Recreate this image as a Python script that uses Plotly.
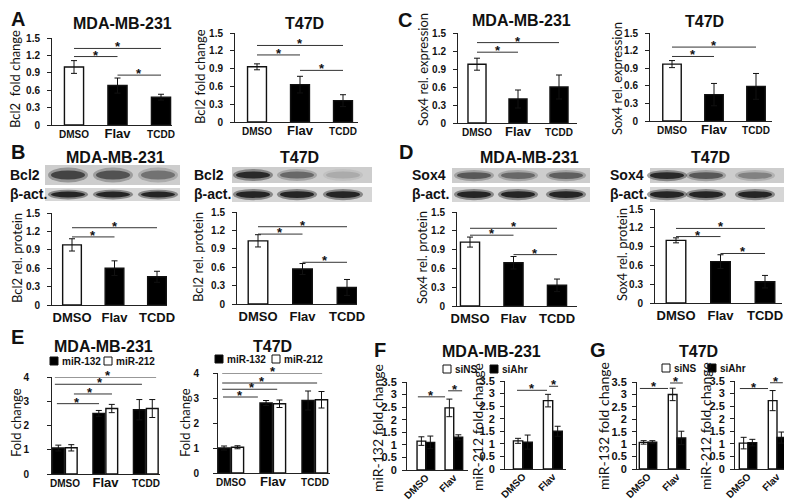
import plotly.graph_objects as go

# The page body keeps an 8px default margin, so the figure is drawn 8px in
# from the window edge; layout positions below are given in window pixels.
WIN_W, WIN_H = 792, 500
OFF = 8
W, H = WIN_W - OFF, WIN_H - OFF
FONT = "Liberation Sans"
TFONT = "Lato"

# ---------------- data ----------------
cats3 = ["DMSO", "Flav", "TCDD"]
cats2 = ["DMSO", "Flav"]
cats3_small = ["DMSO", "<span style='font-size:13px'>Flav</span>", "TCDD"]

yt15 = [0, 0.3, 0.6, 0.9, 1.2, 1.5]
yt15_txt = ["0", "0.3", "0.6", "0.9", "1.2", "1.5"]
yt4 = [0, 1, 2, 3, 4]
yt4_txt = ["0", "1", "2", "3", "4"]
yt35 = [0, 0.5, 1, 1.5, 2, 2.5, 3, 3.5]
yt35_txt = ["0", "0.5", "1", "1.5", "2", "2.5", "3", "3.5"]

# A: Bcl2 fold change (mRNA)
a_mda_val = [1.0, 0.68, 0.48]
a_mda_err = [0.11, 0.13, 0.05]
a_t47d_val = [0.93, 0.63, 0.36]
a_t47d_err = [0.05, 0.14, 0.10]
# B: Bcl2 rel. protein
b_mda_val = [0.98, 0.60, 0.46]
b_mda_err = [0.10, 0.12, 0.09]
b_t47d_val = [1.03, 0.57, 0.27]
b_t47d_err = [0.10, 0.09, 0.13]
# C: Sox4 rel. expression
c_mda_val = [0.98, 0.40, 0.60]
c_mda_err = [0.10, 0.15, 0.20]
c_t47d_val = [0.97, 0.45, 0.59]
c_t47d_err = [0.06, 0.19, 0.22]
# D: Sox4 rel. protein
d_mda_val = [1.02, 0.69, 0.33]
d_mda_err = [0.08, 0.10, 0.10]
d_t47d_val = [1.00, 0.66, 0.34]
d_t47d_err = [0.04, 0.11, 0.10]
# E: miR-132 / miR-212 fold change
e_mda_132 = [1.07, 2.50, 2.65]
e_mda_132_err = [0.12, 0.12, 0.42]
e_mda_212 = [1.08, 2.70, 2.70]
e_mda_212_err = [0.13, 0.17, 0.37]
e_t47d_132 = [1.00, 2.80, 2.90]
e_t47d_132_err = [0.08, 0.10, 0.38]
e_t47d_212 = [1.03, 2.77, 2.93]
e_t47d_212_err = [0.06, 0.15, 0.33]
# F: MDA-MB-231 siNS / siAhr
f_132_siNS = [1.15, 2.47]
f_132_siNS_err = [0.17, 0.35]
f_132_siAhr = [1.10, 1.30]
f_132_siAhr_err = [0.25, 0.10]
f_212_siNS = [1.12, 2.72]
f_212_siNS_err = [0.10, 0.25]
f_212_siAhr = [1.07, 1.50]
f_212_siAhr_err = [0.28, 0.20]
# G: T47D siNS / siAhr
g_132_siNS = [1.07, 3.00]
g_132_siNS_err = [0.07, 0.25]
g_132_siAhr = [1.08, 1.25]
g_132_siAhr_err = [0.06, 0.27]
g_212_siNS = [1.03, 2.72]
g_212_siNS_err = [0.23, 0.40]
g_212_siAhr = [1.05, 1.25]
g_212_siAhr_err = [0.13, 0.22]

# significance brackets: (from, to, height[, star position])
a_mda_sig = [(0, 2, 1.32), (0, 1, 1.18), (1, 2, 0.86)]
a_t47d_sig = [(0, 2, 1.29), (0, 1, 1.13), (1, 2, 0.87)]
b_mda_sig = [(0, 2, 1.26), (0, 1, 1.11)]
b_t47d_sig = [(0, 2, 1.26), (0, 1, 1.14), (1, 2, 0.68)]
c_mda_sig = [(0, 2, 1.34), (0, 1, 1.18)]
c_t47d_sig = [(0, 2, 1.26), (0, 1, 1.10)]
d_mda_sig = [(0, 2, 1.24), (0, 1, 1.13), (1, 2, 0.82)]
d_t47d_sig = [(0, 2, 1.19), (0, 1, 1.06), (1, 2, 0.79)]
e_mda_sig = [(-0.25, 2.25, 4.0, 1.06), (-0.25, 1.9, 3.7, 0.86), (0.22, 1.16, 3.3, 0.62),
             (-0.2, 0.84, 2.9, 0.3)]
e_t47d_sig = [(-0.21, 2.17, 4.0, 1.0), (-0.21, 2.05, 3.6, 0.74), (-0.21, 1.1, 3.35, 0.5),
              (-0.19, 0.64, 3.04, 0.21)]
f_132_sig = [(-0.29, 0.68, 2.91), (0.79, 1.29, 3.15)]
f_212_sig = [(-0.2, 0.8, 3.13), (0.87, 1.17, 3.29)]
g_132_sig = [(-0.28, 0.69, 3.24), (0.76, 1.2, 3.46)]
g_212_sig = [(-0.28, 0.69, 3.2), (0.76, 1.2, 3.43)]

# ---------------- helpers ----------------
fig = go.Figure()
layout = {}
shapes = []
annots = []
count = [0]


def px(x):
    return (x - OFF) / W


def py(y):
    return 1 - (y - OFF) / H


def make_axes(left, right, c0, c_last, n_last, y0, ytop, ymax, ytv, ytt, xtt,
              xsize, standoff=5, ysize=10, tickangle=0, xstandoff=0):
    count[0] += 1
    i = count[0]
    s = (c_last - c0) / n_last
    k = "" if i == 1 else str(i)
    layout["xaxis" + k] = dict(
        domain=[px(left), px(right)], range=[(left - c0) / s, (right - c0) / s],
        anchor="y" + k, tickvals=list(range(len(xtt))), ticktext=xtt,
        showline=True, linecolor="#222", linewidth=1, ticks="", showgrid=False,
        zeroline=False, tickangle=tickangle, automargin=False, ticklabelstandoff=xstandoff,
        tickfont=dict(family=FONT, size=xsize, color="#111", weight="bold"))
    layout["yaxis" + k] = dict(
        domain=[py(y0), py(ytop)], range=[0, ymax], anchor="x" + k,
        tickvals=ytv, ticktext=ytt, showline=True, linecolor="#222", linewidth=1,
        ticks="outside", ticklen=4, tickcolor="#222", showgrid=False, zeroline=False,
        ticklabelstandoff=standoff, automargin=False,
        tickfont=dict(family=FONT, size=ysize, color="#111", weight="bold"))
    return "x" + k, "y" + k


def bars(xa, ya, vals, errs, colors, width, offset=None):
    fig.add_trace(go.Bar(
        x=list(range(len(vals))), y=vals, xaxis=xa, yaxis=ya, width=width, offset=offset,
        marker=dict(color=colors, line=dict(color="#111", width=1.4)),
        error_y=dict(type="data", array=errs, color="#111", thickness=1, width=3),
        showlegend=False, hoverinfo="skip"))


def brackets(xa, ya, sig):
    for item in sig:
        x0, x1, y = item[0], item[1], item[2]
        sx = item[3] if len(item) > 3 else (x0 + x1) / 2
        shapes.append(dict(type="line", xref=xa, yref=ya, x0=x0, x1=x1, y0=y, y1=y,
                           line=dict(color="#333", width=1)))
        annots.append(dict(xref=xa, yref=ya, x=sx, y=y, text="*",
                           showarrow=False, yanchor="bottom", yshift=-8,
                           font=dict(family=FONT, size=13, color="#111", weight="bold")))


def text(x, y, s, size, bold=True, family=FONT, angle=0, xanchor="center"):
    annots.append(dict(xref="paper", yref="paper", x=px(x), y=py(y), text=s,
                       showarrow=False, textangle=angle, xanchor=xanchor, yanchor="middle",
                       font=dict(family=family, size=size, color="#111",
                                 weight="bold" if bold else "normal")))


def blot_row(x0, x1, y0, y1, lanes, intens, half=20, bg="#cdcdcd"):
    shapes.append(dict(type="rect", xref="paper", yref="paper", x0=px(x0), x1=px(x1),
                       y0=py(y1), y1=py(y0), fillcolor=bg, line=dict(width=0)))
    ym = (y0 + y1) / 2
    hh = (y1 - y0) / 2
    for c, a in zip(lanes, intens):
        shapes.append(dict(type="circle", xref="paper", yref="paper",
                           x0=px(c - half), x1=px(c + half),
                           y0=py(ym + hh * 0.75), y1=py(ym - hh * 0.75),
                           fillcolor=f"rgba(40,40,40,{0.45 * a:.2f})", line=dict(width=0)))
        shapes.append(dict(type="circle", xref="paper", yref="paper",
                           x0=px(c - half * 0.85), x1=px(c + half * 0.85),
                           y0=py(ym + hh * 0.45), y1=py(ym - hh * 0.45),
                           fillcolor=f"rgba(20,20,20,{0.85 * a:.2f})", line=dict(width=0)))


def legend_item(x, y, fill, label):
    shapes.append(dict(type="rect", xref="paper", yref="paper", x0=px(x), x1=px(x + 8),
                       y0=py(y + 4), y1=py(y - 4), fillcolor=fill,
                       line=dict(color="#111", width=1)))
    text(x + 10, y, label, 10, xanchor="left")


W3 = 0.44
WHITE_BLACK3 = ["white", "black", "black"]

# ---------------- panel A ----------------
xa, ya = make_axes(52, 172, 74, 161, 2, 125, 38, 1.5, yt15, yt15_txt, cats3_small, 10)
bars(xa, ya, a_mda_val, a_mda_err, WHITE_BLACK3, W3)
brackets(xa, ya, a_mda_sig)
xa, ya = make_axes(235, 358, 257, 343, 2, 122, 33, 1.5, yt15, yt15_txt, cats3_small, 10)
bars(xa, ya, a_t47d_val, a_t47d_err, WHITE_BLACK3, W3)
brackets(xa, ya, a_t47d_sig)
text(18, 19, "A", 20)
text(122, 23, "MDA-MB-231", 16)
text(304, 23, "T47D", 16)
text(15, 79, "Bcl2  fold change", 13, bold=False, family=TFONT, angle=-90)
text(200, 77, "Bcl2 fold change", 13, bold=False, family=TFONT, angle=-90)

# ---------------- panel C ----------------
xa, ya = make_axes(458, 577, 477, 559, 2, 123, 33, 1.5, yt15, yt15_txt, cats3_small, 10)
bars(xa, ya, c_mda_val, c_mda_err, WHITE_BLACK3, W3)
brackets(xa, ya, c_mda_sig)
xa, ya = make_axes(650, 772, 672, 756, 2, 121, 33, 1.5, yt15, yt15_txt, cats3_small, 10)
bars(xa, ya, c_t47d_val, c_t47d_err, WHITE_BLACK3, W3)
brackets(xa, ya, c_t47d_sig)
text(405, 20, "C", 20)
text(521, 21, "MDA-MB-231", 16)
text(704, 22, "T47D", 16)
text(423, 70, "Sox4 rel. expression", 13, bold=False, family=TFONT, angle=-90)
text(617, 79, "Sox4 rel. expression", 13, bold=False, family=TFONT, angle=-90)

# ---------------- panel B ----------------
text(18, 152, "B", 20)
text(116, 157, "MDA-MB-231", 16)
text(299, 157, "T47D", 16)
blot_row(45, 180, 165, 185, [68, 113, 158], [0.75, 0.65, 0.45])
blot_row(45, 180, 188, 201, [68, 113, 158], [1, 1, 1], bg="#d6d6d6")
text(8, 175, "Bcl2", 14, xanchor="left")
text(8, 194, "β-act.", 14, xanchor="left")
blot_row(232, 372, 167, 183, [253, 297, 343], [0.95, 0.5, 0.15])
blot_row(232, 372, 187, 202, [253, 297, 343], [1, 1, 1], bg="#d6d6d6")
text(192, 175, "Bcl2", 14, xanchor="left")
text(192, 194, "β-act.", 14, xanchor="left")
xa, ya = make_axes(52, 167, 72, 157, 2, 305, 213, 1.5, yt15, yt15_txt, cats3, 13)
bars(xa, ya, b_mda_val, b_mda_err, WHITE_BLACK3, W3)
brackets(xa, ya, b_mda_sig)
xa, ya = make_axes(237, 357, 258, 347, 2, 304, 212, 1.5, yt15, yt15_txt, cats3, 13)
bars(xa, ya, b_t47d_val, b_t47d_err, WHITE_BLACK3, W3)
brackets(xa, ya, b_t47d_sig)
text(17, 258, "Bcl2 rel. protein", 13, bold=False, family=TFONT, angle=-90)
text(198, 257, "Bcl2 rel. protein", 13, bold=False, family=TFONT, angle=-90)

# ---------------- panel D ----------------
text(406, 152, "D", 20)
text(529, 157, "MDA-MB-231", 16)
text(710, 157, "T47D", 16)
blot_row(452, 590, 168, 183, [474, 518, 566], [0.6, 0.5, 0.55])
blot_row(452, 590, 187, 202, [474, 518, 566], [1, 1, 1], bg="#d6d6d6")
text(410, 175, "Sox4", 14, xanchor="left")
text(410, 194, "β-act.", 14, xanchor="left")
blot_row(650, 790, 168, 183, [667, 706, 755], [0.95, 0.6, 0.35])
blot_row(650, 790, 187, 202, [667, 706, 755], [1, 1, 1], bg="#d6d6d6")
text(608, 175, "Sox4", 14, xanchor="left")
text(608, 194, "β-act.", 14, xanchor="left")
xa, ya = make_axes(457, 577, 470, 557, 2, 306, 212, 1.5, yt15, yt15_txt, cats3, 13)
bars(xa, ya, d_mda_val, d_mda_err, WHITE_BLACK3, W3)
brackets(xa, ya, d_mda_sig)
xa, ya = make_axes(655, 782, 676, 765, 2, 303, 209, 1.5, yt15, yt15_txt, cats3, 13)
bars(xa, ya, d_t47d_val, d_t47d_err, WHITE_BLACK3, W3)
brackets(xa, ya, d_t47d_sig)
text(422, 257, "Sox4 rel. protein", 13, bold=False, family=TFONT, angle=-90)
text(622, 255, "Sox4 rel. protein", 13, bold=False, family=TFONT, angle=-90)

# ---------------- panel E ----------------
text(17, 337, "E", 20)
text(103, 346, "MDA-MB-231", 16)
text(272, 346, "T47D", 16)
legend_item(50, 361, "black", "miR-132")
legend_item(104, 361, "white", "miR-212")
legend_item(215, 359, "black", "miR-132")
legend_item(272, 359, "white", "miR-212")
xa, ya = make_axes(52, 160, 65, 146, 2, 474, 377, 4, yt4, yt4_txt, cats3_small, 10, standoff=16)
bars(xa, ya, e_mda_132, e_mda_132_err, "black", 0.29, offset=-0.31)
bars(xa, ya, e_mda_212, e_mda_212_err, "white", 0.29, offset=0.01)
brackets(xa, ya, e_mda_sig)
xa, ya = make_axes(218, 330, 231, 315, 2, 473, 373, 4, yt4, yt4_txt, cats3_small, 10, standoff=12)
bars(xa, ya, e_t47d_132, e_t47d_132_err, "black", 0.29, offset=-0.31)
bars(xa, ya, e_t47d_212, e_t47d_212_err, "white", 0.29, offset=0.01)
brackets(xa, ya, e_t47d_sig)
text(16, 423, "Fold change", 13, bold=False, family=TFONT, angle=-90)
text(185, 423, "Fold change", 13, bold=False, family=TFONT, angle=-90)

# ---------------- panel F ----------------
text(380, 350, "F", 20)
text(491, 351, "MDA-MB-231", 16)
legend_item(443, 369, "white", "siNS")
legend_item(490, 369, "black", "siAhr")
xa, ya = make_axes(407, 468, 426, 454, 1, 470, 382, 3.5, yt35, yt35_txt, cats2, 10,
                   standoff=3, ysize=11, tickangle=-45, xstandoff=-3)
bars(xa, ya, f_132_siNS, f_132_siNS_err, "white", 0.31, offset=-0.32)
bars(xa, ya, f_132_siAhr, f_132_siAhr_err, "black", 0.31, offset=0.0)
brackets(xa, ya, f_132_sig)
xa, ya = make_axes(505, 566, 523, 553, 1, 469, 381, 3.5, yt35, yt35_txt, cats2, 10,
                   standoff=3, ysize=11, tickangle=-45, xstandoff=-3)
bars(xa, ya, f_212_siNS, f_212_siNS_err, "white", 0.31, offset=-0.32)
bars(xa, ya, f_212_siAhr, f_212_siAhr_err, "black", 0.31, offset=0.0)
brackets(xa, ya, f_212_sig)
text(377, 428, "miR-132 fold change", 14, bold=False, family=TFONT, angle=-90)
text(477, 427, "miR-212 fold change", 14, bold=False, family=TFONT, angle=-90)

# ---------------- panel G ----------------
text(598, 350, "G", 20)
text(698, 351, "T47D", 16)
legend_item(662, 368, "white", "siNS")
legend_item(708, 368, "black", "siAhr")
xa, ya = make_axes(637, 690, 648, 677, 1, 469, 382, 3.5, yt35, yt35_txt, cats2, 10,
                   standoff=3, ysize=11, tickangle=-45, xstandoff=-3)
bars(xa, ya, g_132_siNS, g_132_siNS_err, "white", 0.3, offset=-0.3)
bars(xa, ya, g_132_siAhr, g_132_siAhr_err, "black", 0.3, offset=0.0)
brackets(xa, ya, g_132_sig)
xa, ya = make_axes(735, 790, 748, 777, 1, 469, 381, 3.5, yt35, yt35_txt, cats2, 10,
                   standoff=3, ysize=11, tickangle=-45, xstandoff=-3)
bars(xa, ya, g_212_siNS, g_212_siNS_err, "white", 0.3, offset=-0.3)
bars(xa, ya, g_212_siAhr, g_212_siAhr_err, "black", 0.3, offset=0.0)
brackets(xa, ya, g_212_sig)
text(603, 426, "miR-132 fold change", 14, bold=False, family=TFONT, angle=-90)
text(705, 426, "miR-212 fold change", 14, bold=False, family=TFONT, angle=-90)

fig.update_layout(
    width=W, height=H, margin=dict(l=0, r=0, t=0, b=0, autoexpand=False),
    paper_bgcolor="white", plot_bgcolor="rgba(0,0,0,0)",
    barmode="overlay", showlegend=False,
    shapes=shapes, annotations=annots, **layout)

fig.write_html("out.html")
